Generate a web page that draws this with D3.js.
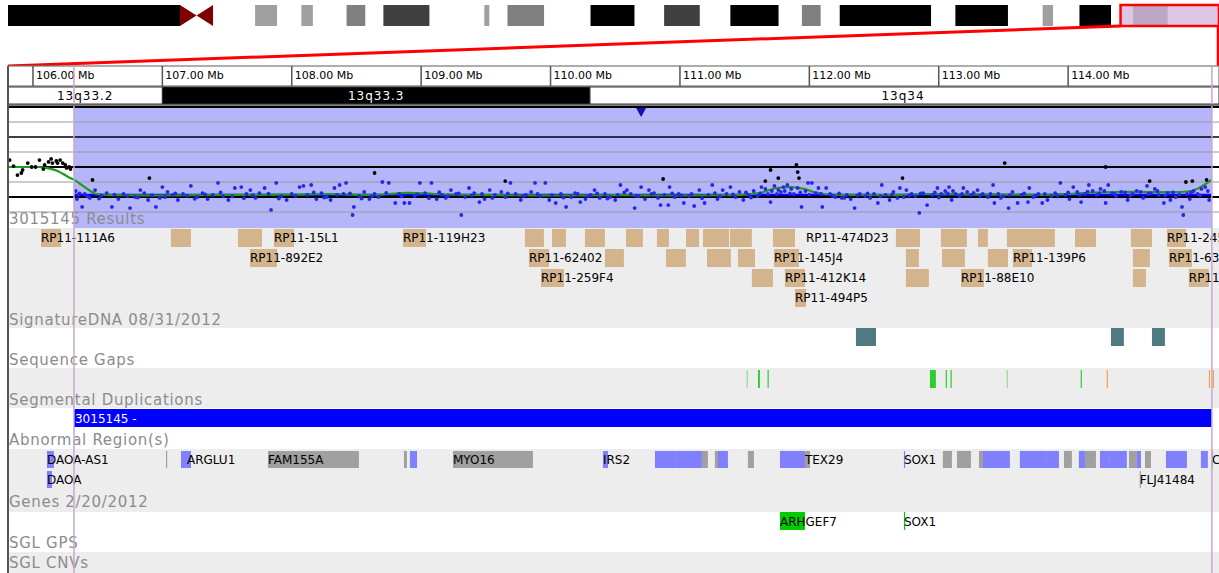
<!DOCTYPE html>
<html>
<head>
<meta charset="utf-8"/>
<script src="https://d3js.org/d3.v7.min.js"></script>
<title>chr13 region view</title>
<style>
  body { margin: 0; background: #fff; }
  text { font-family: "DejaVu Sans", sans-serif; }
  .trackLabel { font-size: 15px; fill: #8c8c8c; letter-spacing: 0.7px; }
  .feat { font-size: 12px; fill: #000; }
  .rulerText { font-size: 11px; fill: #000; }
</style>
</head>
<body>
<div id="chart"></div>
<script type="text/javascript">

// window on chromosome 13 and the selected region (Mb)
var viewStart = 105.807, viewEnd = 115.166;
var regionStart = 106.317, regionEnd = 115.111;
var chromLength = 115.17;
var rulerTicks = [106, 107, 108, 109, 110, 111, 112, 113, 114];

// ideogram bands [start, end, stain]
var ideoBands = [
  [0, 16.36, "gvar"], [16.36, 19.5, "acen"], [19.5, 23.5, "gneg"], [23.5, 25.6, "gpos25"],
  [25.6, 27.9, "gneg"], [27.9, 29.0, "gpos25"], [29.0, 32.2, "gneg"], [32.2, 34.0, "gpos50"],
  [34.0, 35.7, "gneg"], [35.7, 40.1, "gpos75"], [40.1, 45.3, "gneg"], [45.3, 45.8, "gpos25"],
  [45.8, 47.5, "gneg"], [47.5, 51.0, "gpos50"], [51.0, 55.4, "gneg"], [55.4, 59.6, "gpos100"],
  [59.6, 62.4, "gneg"], [62.4, 65.8, "gpos75"], [65.8, 68.7, "gneg"], [68.7, 73.3, "gpos100"],
  [73.3, 75.5, "gneg"], [75.5, 77.3, "gpos50"], [77.3, 79.1, "gneg"], [79.1, 87.8, "gpos100"],
  [87.8, 90.1, "gneg"], [90.1, 95.1, "gpos100"], [95.1, 98.4, "gneg"], [98.4, 99.4, "gpos25"],
  [99.4, 101.9, "gneg"], [101.9, 104.9, "gpos100"], [104.9, 107.0, "gneg"], [107.0, 110.3, "gpos100"],
  [110.3, 115.17, "gneg"]
];

// cytobands in view
var cytoNames = ["13q33.2", "13q33.3", "13q34"];
var cytoStarts = [104.9, 107.0, 110.305];
var cytoEnds = [107.0, 110.305, 115.17];
var cytoStains = ["gneg", "gpos100", "gneg"];

// log2 ratio probes outside / flagged (black) and inside region (blue)
var blackPoints = [
  [105.82, 1.23], [105.85, 1.03], [105.88, 0.73], [105.91, 0.8], [105.92, 0.9], [105.96, 1.13],
  [105.99, 1.0], [106.02, 1.0], [106.05, 1.23], [106.08, 0.93], [106.09, 1.07], [106.12, 1.17],
  [106.14, 1.27], [106.15, 1.13], [106.18, 1.2], [106.19, 1.13], [106.21, 1.23], [106.23, 1.13],
  [106.25, 1.07], [106.26, 0.97], [106.28, 1.0], [106.29, 0.93],
  [106.46, 0.57], [106.90, 0.63], [108.64, 0.8], [109.65, 0.53], [110.87, 0.6], [111.66, 0.53],
  [111.70, 0.9], [111.76, 0.63], [111.90, 1.07], [111.91, 0.83], [111.92, 0.63], [112.72, 0.63],
  [113.51, 1.13], [114.29, 1.0], [114.63, 0.53], [114.91, 0.5], [114.96, 0.53], [115.07, 0.57]
];

var bluePoints = [
  [106.33, 0.2], [106.34, -0.07], [106.35, 0.07], [106.38, -0.33], [106.40, 0.1], [106.44, -0.03],
  [106.48, 0.23], [106.53, 0.05], [106.57, 0.13], [106.61, -0.33], [106.66, -0.07], [106.70, 0.1],
  [106.75, -0.37], [106.79, 0.0], [106.83, 0.23], [106.86, 0.13], [106.89, -0.1], [106.95, -0.33],
  [106.98, -0.03], [107.00, 0.33], [107.04, 0.17], [107.08, 0.07], [107.12, -0.1], [107.16, 0.1],
  [107.22, 0.37], [107.27, 0.0], [107.31, 0.13], [107.35, -0.07], [107.39, 0.07], [107.43, 0.47],
  [107.47, 0.03], [107.51, -0.1], [107.56, 0.3], [107.61, 0.33], [107.65, 0.1], [107.68, 0.23],
  [107.72, -0.03], [107.75, 0.13], [107.79, 0.3], [107.84, -0.43], [107.88, 0.47], [107.92, 0.03],
  [107.96, -0.1], [108.00, 0.1], [108.06, 0.33], [108.09, 0.37], [108.12, 0.07], [108.15, 0.4],
  [108.19, -0.07], [108.23, 0.13], [108.27, 0.0], [108.30, -0.1], [108.33, 0.3], [108.37, 0.4],
  [108.40, 0.1], [108.42, 0.47], [108.47, -0.6], [108.48, -0.33], [108.52, 0.03], [108.56, 0.17],
  [108.60, -0.07], [108.64, 0.1], [108.67, 0.0], [108.70, 0.5], [108.75, 0.47], [108.80, -0.2],
  [108.83, 0.1], [108.87, -0.2], [108.91, -0.2], [108.95, 0.03], [108.99, 0.47], [109.03, 0.13],
  [109.08, 0.47], [109.12, -0.07], [109.16, 0.07], [109.19, -0.03], [109.23, 0.23], [109.27, 0.1],
  [109.31, -0.6], [109.34, 0.0], [109.37, 0.3], [109.41, 0.13], [109.45, -0.17], [109.49, -0.07],
  [109.53, 0.23], [109.57, 0.07], [109.62, 0.17], [109.65, 0.0], [109.69, 0.47], [109.73, 0.1],
  [109.77, -0.1], [109.81, 0.07], [109.85, 0.17], [109.88, 0.47], [109.92, 0.03], [109.96, 0.47],
  [109.99, -0.1], [110.04, -0.2], [110.08, 0.1], [110.12, -0.33], [110.16, 0.0], [110.19, 0.13],
  [110.23, -0.17], [110.27, -0.07], [110.31, 0.07], [110.34, 0.23], [110.38, -0.03], [110.42, 0.1],
  [110.46, 0.0], [110.50, -0.1], [110.54, 0.4], [110.59, 0.23], [110.62, 0.1], [110.65, -0.37],
  [110.68, 0.03], [110.70, 0.33], [110.73, -0.07], [110.76, 0.23], [110.80, 0.13], [110.85, -0.27],
  [110.88, 0.07], [110.91, -0.27], [110.92, 0.33], [110.96, 0.0], [110.99, 0.1], [111.03, -0.2],
  [111.07, 0.03], [111.11, -0.3], [111.15, 0.23], [111.19, -0.2], [111.22, 0.07], [111.25, 0.4],
  [111.29, -0.07], [111.33, 0.23], [111.36, 0.1], [111.39, 0.33], [111.43, 0.0], [111.46, 0.17],
  [111.49, -0.1], [111.53, 0.07], [111.57, 0.2], [111.60, 0.03], [111.63, 0.33], [111.66, 0.27],
  [111.68, 0.1], [111.70, -0.17], [111.73, 0.37], [111.76, 0.23], [111.78, 0.17], [111.80, 0.33],
  [111.83, 0.4], [111.86, 0.27], [111.88, 0.1], [111.91, 0.3], [111.94, -0.33], [111.97, 0.2],
  [111.99, 0.47], [112.02, 0.47], [112.05, 0.13], [112.07, 0.3], [112.10, -0.33], [112.13, 0.3],
  [112.16, 0.1], [112.20, 0.0], [112.25, -0.03], [112.29, 0.07], [112.32, -0.07], [112.35, -0.37],
  [112.39, 0.1], [112.43, 0.03], [112.47, -0.03], [112.50, 0.1], [112.53, -0.2], [112.56, 0.4],
  [112.59, 0.07], [112.62, -0.1], [112.65, 0.17], [112.68, -0.03], [112.70, 0.3], [112.73, 0.0],
  [112.75, 0.23], [112.79, 0.1], [112.82, 0.03], [112.85, -0.53], [112.88, 0.13], [112.91, -0.27],
  [112.95, 0.07], [112.99, 0.3], [113.02, 0.1], [113.05, 0.2], [113.08, 0.33], [113.10, -0.1],
  [113.13, 0.1], [113.16, 0.03], [113.19, 0.3], [113.22, 0.17], [113.25, 0.07], [113.30, 0.23],
  [113.34, 0.1], [113.38, 0.0], [113.42, 0.4], [113.43, -0.2], [113.46, 0.1], [113.50, 0.03],
  [113.54, -0.37], [113.57, 0.17], [113.61, -0.2], [113.64, 0.07], [113.69, -0.17], [113.70, 0.3],
  [113.73, 0.0], [113.77, 0.1], [113.80, -0.2], [113.84, -0.1], [113.87, 0.03], [113.90, 0.13],
  [113.94, 0.47], [113.98, 0.07], [114.01, -0.07], [114.04, 0.33], [114.07, 0.17], [114.10, -0.17],
  [114.13, 0.1], [114.16, 0.4], [114.19, 0.2], [114.22, 0.07], [114.25, 0.27], [114.29, -0.2],
  [114.31, 0.4], [114.34, 0.13], [114.37, 0.03], [114.41, 0.17], [114.46, -0.1], [114.50, 0.1],
  [114.53, 0.2], [114.58, -0.03], [114.61, 0.37], [114.64, 0.13], [114.67, 0.27], [114.70, 0.07],
  [114.74, -0.2], [114.77, 0.13], [114.79, -0.1], [114.83, 0.0], [114.88, -0.33], [114.89, -0.6],
  [114.92, 0.1], [114.94, -0.07], [114.97, 0.2], [115.00, 0.1], [115.03, 0.27], [115.06, 0.33],
  [115.09, -0.1],
  // dense run of probes near the baseline
  [106.36, 0.12], [106.42, 0.02], [106.51, -0.05], [106.63, 0.08], [106.73, 0.03], [106.81, -0.02],
  [106.92, 0.06], [107.02, 0.0], [107.10, 0.12], [107.19, 0.04], [107.25, -0.06], [107.33, 0.09],
  [107.45, 0.15], [107.54, 0.02], [107.63, -0.04], [107.70, 0.06], [107.82, 0.11], [107.90, -0.05],
  [108.03, 0.04], [108.17, 0.15], [108.25, -0.02], [108.35, 0.07], [108.45, 0.12], [108.54, -0.05],
  [108.62, 0.03], [108.73, 0.14], [108.85, 0.02], [108.97, 0.09], [109.06, -0.04], [109.14, 0.16],
  [109.21, 0.03], [109.29, 0.12], [109.39, 0.05], [109.47, 0.1], [109.55, -0.03], [109.67, 0.12],
  [109.79, 0.04], [109.90, 0.1], [110.01, 0.06], [110.10, -0.02], [110.21, 0.1], [110.29, 0.03],
  [110.36, 0.12], [110.44, -0.05], [110.52, 0.07], [110.57, 0.15], [110.66, 0.04], [110.78, 0.1],
  [110.83, -0.03], [110.94, 0.12], [111.01, 0.05], [111.09, 0.1], [111.17, -0.04], [111.27, 0.13],
  [111.31, 0.02], [111.41, 0.09], [111.51, 0.15], [111.55, -0.02], [111.62, 0.12], [111.71, 0.2],
  [111.75, 0.1], [111.81, 0.2], [111.85, 0.12], [111.93, 0.15], [112.00, 0.08], [112.09, 0.1],
  [112.18, 0.04], [112.23, 0.12], [112.27, -0.03], [112.37, 0.05], [112.45, 0.12], [112.55, 0.02],
  [112.64, 0.09], [112.77, 0.05], [112.86, 0.12], [112.97, 0.15], [113.00, -0.02], [113.07, 0.12],
  [113.11, 0.2], [113.18, 0.1], [113.27, 0.14], [113.32, 0.04], [113.40, 0.1], [113.48, -0.03],
  [113.55, 0.06], [113.66, 0.12], [113.75, 0.05], [113.82, 0.1], [113.92, 0.05], [114.00, 0.15],
  [114.09, 0.07], [114.15, 0.18], [114.24, 0.12], [114.28, 0.2], [114.36, 0.1], [114.44, 0.15],
  [114.48, 0.05], [114.56, 0.17], [114.62, 0.1], [114.69, 0.2], [114.75, 0.05], [114.81, 0.15],
  [114.86, 0.08], [114.95, 0.15], [115.02, 0.05], [115.08, 0.2]
];

// smoothed ratio and segment mean
var smoothLine = [
  [105.80, 1.0], [105.95, 1.0], [106.05, 1.0], [106.10, 0.97], [106.19, 0.87], [106.28, 0.65],
  [106.32, 0.57], [106.40, 0.33], [106.49, 0.1], [106.6, 0.06], [107.0, 0.05], [107.5, 0.07],
  [108.0, 0.08], [108.3, 0.1], [108.6, 0.06], [108.9, 0.14], [109.1, 0.1], [109.6, 0.06],
  [110.0, 0.05], [110.5, 0.06], [111.0, 0.05], [111.4, 0.06], [111.6, 0.12], [111.75, 0.3],
  [111.85, 0.33], [111.95, 0.28], [112.05, 0.15], [112.2, 0.07], [112.6, 0.06], [112.9, 0.1],
  [113.2, 0.09], [113.5, 0.08], [113.8, 0.07], [114.0, 0.1], [114.2, 0.15], [114.5, 0.17],
  [114.8, 0.16], [114.95, 0.2], [115.05, 0.4], [115.11, 0.57]
];
var segMean = [[106.317, 115.111, 0.07]];
var markerPos = 110.70;

// BAC clones [start, end, row, name]
var clones = [
  [106.062, 106.216, 0, "RP11-111A6"], [107.066, 107.221, 0, ""], [107.584, 107.770, 0, ""],
  [107.862, 108.017, 0, "RP11-15L1"], [108.859, 109.037, 0, "RP11-119H23"], [109.802, 109.949, 0, ""],
  [110.011, 110.119, 0, ""], [110.266, 110.420, 0, ""], [110.583, 110.714, 0, ""],
  [110.822, 110.915, 0, ""], [111.047, 111.148, 0, ""], [111.178, 111.379, 0, ""],
  [111.386, 111.556, 0, ""], [111.719, 111.889, 0, ""], [111.974, 111.974, 0, "RP11-474D23"],
  [112.669, 112.855, 0, ""], [113.017, 113.218, 0, ""], [113.303, 113.380, 0, ""],
  [113.527, 113.736, 0, ""], [113.736, 113.898, 0, ""], [114.053, 114.215, 0, ""],
  [114.485, 114.648, 0, ""], [114.764, 114.911, 0, "RP11-245"],
  [107.677, 107.886, 1, "RP11-892E2"], [109.833, 109.988, 1, "RP11-62402"], [110.420, 110.567, 1, ""],
  [110.892, 111.046, 1, ""], [111.209, 111.394, 1, ""], [111.448, 111.580, 1, ""],
  [111.726, 111.920, 1, "RP11-145J4"], [112.746, 112.847, 1, ""], [113.025, 113.202, 1, ""],
  [113.380, 113.535, 1, ""], [113.573, 113.720, 1, "RP11-139P6"], [114.501, 114.632, 1, ""],
  [114.779, 114.957, 1, "RP11-63"],
  [109.926, 110.104, 2, "RP11-259F4"], [111.556, 111.719, 2, ""], [111.811, 111.966, 2, "RP11-412K14"],
  [112.746, 112.924, 2, ""], [113.172, 113.349, 2, "RP11-88E10"], [114.501, 114.601, 2, ""],
  [114.933, 115.087, 2, "RP11-"],
  [111.889, 111.974, 3, "RP11-494P5"]
];

// sequence gaps and segmental duplications [start, end, kind]
var seqGaps = [[112.360, 112.515], [114.331, 114.431], [114.648, 114.748]];
var segDups = [
  [111.515, 111.522, "faint"], [111.603, 111.618, "green"], [111.677, 111.685, "green"],
  [112.932, 112.978, "green"], [113.054, 113.060, "green"], [113.091, 113.097, "green"],
  [113.525, 113.530, "faint"], [114.097, 114.102, "green"], [114.298, 114.303, "orange"],
  [115.088, 115.094, "orange"], [115.118, 115.124, "orange"]
];

// abnormal region call
var abnormal = [[106.317, 115.111, "3015145 -"]];

// genes [start, end, row, type, name]
var genes = [
  [106.108, 106.162, 0, "coding", "DAOA-AS1"], [107.028, 107.036, 0, "other", ""],
  [107.144, 107.190, 0, "coding", ""], [107.190, 107.221, 0, "coding", "ARGLU1"],
  [107.816, 108.519, 0, "other", "FAM155A"], [108.867, 108.890, 0, "other", ""],
  [108.913, 108.968, 0, "coding", ""], [109.246, 109.864, 0, "other", "MYO16"],
  [110.405, 110.444, 0, "coding", "IRS2"], [110.807, 110.969, 0, "coding", ""],
  [110.969, 111.170, 0, "coding", ""], [111.170, 111.216, 0, "other", ""],
  [111.270, 111.294, 0, "other", ""], [111.294, 111.371, 0, "coding", ""],
  [111.525, 111.572, 0, "other", ""], [111.773, 111.966, 0, "coding", ""],
  [111.966, 112.005, 0, "other", "TEX29"], [112.731, 112.739, 0, "coding", "SOX1"],
  [113.032, 113.102, 0, "other", ""], [113.141, 113.249, 0, "other", ""],
  [113.311, 113.342, 0, "other", ""], [113.342, 113.550, 0, "coding", ""],
  [113.627, 113.767, 0, "coding", ""], [113.767, 113.836, 0, "coding", ""],
  [113.836, 113.929, 0, "coding", ""], [113.968, 114.029, 0, "other", ""],
  [114.083, 114.130, 0, "coding", ""], [114.130, 114.215, 0, "other", ""],
  [114.246, 114.323, 0, "coding", ""], [114.323, 114.454, 0, "coding", ""],
  [114.470, 114.532, 0, "other", ""], [114.532, 114.563, 0, "coding", ""],
  [114.594, 114.640, 0, "other", ""], [114.756, 114.918, 0, "coding", ""],
  [115.026, 115.080, 0, "coding", ""], [115.111, 115.117, 0, "other", "CHAMP1"],
  [106.108, 106.147, 1, "coding", "DAOA"], [114.553, 114.560, 1, "other", "FLJ41484"]
];

// SGL GPS hits
var gpsHits = [[111.773, 111.966, "ARHGEF7"], [112.731, 112.739, "SOX1"]];

var trackNames = ["3015145 Results", "SignatureDNA 08/31/2012", "Sequence Gaps",
  "Segmental Duplications", "Abnormal Region(s)", "Genes 2/20/2012", "SGL GPS", "SGL CNVs"];

// ---------------------------------------------------------------
var W = 1219, H = 573, left = 8;
var stainColor = {gvar: "#000", acen: "#800000", gneg: "#fff", gpos25: "#a0a0a0",
  gpos50: "#808080", gpos75: "#404040", gpos100: "#000"};

var svg = d3.select("#chart").append("svg")
  .attr("width", W).attr("height", H)
  .style("display", "block");

var x = d3.scaleLinear().domain([viewStart, viewEnd]).range([left, W]);
var ix = d3.scaleLinear().domain([0, chromLength]).range([left, W]);

// ideogram
var ideo = svg.append("g");
var iTop = 5, iBot = 26;
ideo.selectAll("rect.band")
  .data(ideoBands.filter(function(d) { return d[2] != "acen"; }))
  .enter().append("rect")
  .attr("x", function(d) { return ix(d[0]); })
  .attr("width", function(d) { return ix(d[1]) - ix(d[0]); })
  .attr("y", iTop).attr("height", iBot - iTop)
  .attr("fill", function(d) { return stainColor[d[2]]; });
ideoBands.filter(function(d) { return d[2] == "acen"; }).forEach(function(d) {
  var a = ix(d[0]), b = ix(d[1]), m = (a + b) / 2, c = (iTop + iBot) / 2;
  ideo.append("path")
    .attr("d", "M" + a + "," + iTop + "L" + m + "," + c + "L" + a + "," + iBot + "Z" +
               "M" + b + "," + iTop + "L" + m + "," + c + "L" + b + "," + iBot + "Z")
    .attr("fill", stainColor.acen);
});
// view window on ideogram
ideo.append("rect")
  .attr("x", ix(viewStart)).attr("y", iTop)
  .attr("width", ix(viewEnd) - ix(viewStart)).attr("height", iBot - iTop)
  .attr("fill", "#d8bde1").attr("fill-opacity", 0.88)
  .attr("stroke", "#f00").attr("stroke-width", 2.5);

// red zoom connector
svg.append("path")
  .attr("d", "M" + left + ",66L" + ix(viewStart) + "," + iBot)
  .attr("stroke", "#f00").attr("stroke-width", 3).attr("fill", "none");
svg.append("path")
  .attr("d", "M" + (W - 1) + ",66L" + (W - 1) + "," + iBot)
  .attr("stroke", "#f00").attr("stroke-width", 2.5).attr("fill", "none");

// ruler
var rTop = 66, rBot = 86;
svg.append("rect").attr("x", left).attr("y", rTop).attr("width", W - left).attr("height", rBot - rTop)
  .attr("fill", "#fff").attr("stroke", "#777").attr("stroke-width", 1.2);
var tick = svg.selectAll("g.tick").data(rulerTicks).enter().append("g");
tick.append("line")
  .attr("x1", function(d) { return x(d); }).attr("x2", function(d) { return x(d); })
  .attr("y1", rTop).attr("y2", rBot)
  .attr("stroke", "#555").attr("stroke-width", 1.5);
tick.append("text").attr("class", "rulerText")
  .attr("x", function(d) { return x(d) + 3; }).attr("y", rBot - 7)
  .text(function(d) { return d3.format(".2f")(d) + " Mb"; });

// cytoband row
var cTop = 87, cBot = 104;
var cyto = svg.selectAll("g.cyto").data(cytoNames).enter().append("g");
cyto.append("rect")
  .attr("x", function(d, i) { return Math.max(left, x(cytoStarts[i])); })
  .attr("width", function(d, i) { return Math.min(W, x(cytoEnds[i])) - Math.max(left, x(cytoStarts[i])); })
  .attr("y", cTop).attr("height", cBot - cTop)
  .attr("fill", function(d, i) { return stainColor[cytoStains[i]]; })
  .attr("stroke", "#333").attr("stroke-width", 1);
cyto.append("text")
  .attr("x", function(d, i) { return (Math.max(left, x(cytoStarts[i])) + Math.min(W - 3, x(cytoEnds[i]))) / 2; })
  .attr("y", cBot - 4)
  .attr("text-anchor", "middle")
  .style("font-size", "12px").style("letter-spacing", "1px")
  .attr("fill", function(d, i) { return cytoStains[i] == "gneg" ? "#000" : "#fff"; })
  .text(function(d) { return d; });

// track backgrounds
var trackTops = [106, 228, 328, 368, 408, 449, 512, 552];
var trackBots = [228, 328, 368, 408, 449, 512, 552, 573];
var trackBg = ["#fff", "#ededed", "#fff", "#ededed", "#fff", "#ededed", "#fff", "#ededed"];
svg.selectAll("rect.trackbg").data(trackNames).enter().append("rect")
  .attr("x", left).attr("width", W - left)
  .attr("y", function(d, i) { return trackTops[i]; })
  .attr("height", function(d, i) { return trackBots[i] - trackTops[i]; })
  .attr("fill", function(d, i) { return trackBg[i]; });

// results track
var y = d3.scaleLinear().domain([-1, 3]).range([227, 107]);
svg.append("rect")
  .attr("x", x(regionStart)).attr("width", x(regionEnd) - x(regionStart))
  .attr("y", 106).attr("height", 122)
  .attr("fill", "#b5b5f9");
var gridVals = [-0.5, 0, 0.5, 1, 1.5, 2, 2.5, 3];
svg.selectAll("line.grid").data(gridVals).enter().append("line")
  .attr("x1", left).attr("x2", W)
  .attr("y1", function(d) { return y(d); }).attr("y2", function(d) { return y(d); })
  .attr("stroke", function(d) { return d % 1 == 0 ? "#000" : "#9a9a9a"; })
  .attr("stroke-width", function(d) { return (d == 0 || d == 1 || d == 3) ? 2 : (d == 2 ? 1.5 : 1.2); });
svg.selectAll("line.seg").data(segMean).enter().append("line")
  .attr("x1", function(d) { return x(d[0]); }).attr("x2", function(d) { return x(d[1]); })
  .attr("y1", function(d) { return y(d[2]); }).attr("y2", function(d) { return y(d[2]); })
  .attr("stroke", "#0000ff").attr("stroke-width", 2.2);
svg.append("path")
  .datum(smoothLine)
  .attr("d", d3.line().curve(d3.curveMonotoneX)
    .x(function(d) { return x(d[0]); }).y(function(d) { return y(d[1]); }))
  .attr("fill", "none").attr("stroke", "#1f9a1f").attr("stroke-width", 2.2);
svg.selectAll("circle.blue").data(bluePoints).enter().append("circle")
  .attr("cx", function(d) { return x(d[0]); }).attr("cy", function(d) { return y(d[1]); })
  .attr("r", 1.9).attr("fill", "#2626e8");
svg.selectAll("circle.black").data(blackPoints).enter().append("circle")
  .attr("cx", function(d) { return x(d[0]); }).attr("cy", function(d) { return y(d[1]); })
  .attr("r", 1.9).attr("fill", "#000");
svg.append("path")
  .attr("d", "M" + (x(markerPos) - 5) + ",108L" + (x(markerPos) + 5) + ",108L" + x(markerPos) + ",117Z")
  .attr("fill", "#1010b0");

// clone track
var cl = svg.selectAll("g.clone").data(clones).enter().append("g");
cl.append("rect")
  .attr("x", function(d) { return x(d[0]); })
  .attr("width", function(d) { return x(d[1]) - x(d[0]); })
  .attr("y", function(d) { return 229 + d[2] * 20; }).attr("height", 18)
  .attr("fill", "#d4b48c");
cl.append("text").attr("class", "feat")
  .attr("x", function(d) { return x(d[0]); })
  .attr("y", function(d) { return 242 + d[2] * 20; })
  .text(function(d) { return d[3]; });

// sequence gaps
svg.selectAll("rect.gap").data(seqGaps).enter().append("rect")
  .attr("x", function(d) { return x(d[0]); })
  .attr("width", function(d) { return x(d[1]) - x(d[0]); })
  .attr("y", 328).attr("height", 18)
  .attr("fill", "#4f7a80");

// segmental duplications
var dupColor = {green: "#2ecc2e", faint: "#8ee08e", orange: "#f5a340"};
svg.selectAll("rect.dup").data(segDups).enter().append("rect")
  .attr("x", function(d) { return x(d[0]); })
  .attr("width", function(d) { return Math.max(1.2, x(d[1]) - x(d[0])); })
  .attr("y", 370).attr("height", 18)
  .attr("fill", function(d) { return dupColor[d[2]]; });

// abnormal region
var ab = svg.selectAll("g.ab").data(abnormal).enter().append("g");
ab.append("rect")
  .attr("x", function(d) { return x(d[0]); })
  .attr("width", function(d) { return x(d[1]) - x(d[0]); })
  .attr("y", 409).attr("height", 18).attr("fill", "#0000ff");
ab.append("text").attr("class", "feat")
  .attr("x", function(d) { return x(d[0]) + 1; }).attr("y", 423)
  .style("fill", "#fff")
  .text(function(d) { return d[2]; });

// genes
var geneColor = {coding: "#8080ff", other: "#a0a0a0"};
var gn = svg.selectAll("g.gene").data(genes).enter().append("g");
gn.append("rect")
  .attr("x", function(d) { return x(d[0]); })
  .attr("width", function(d) { return Math.max(1.2, x(d[1]) - x(d[0])); })
  .attr("y", function(d) { return 451 + d[2] * 20; }).attr("height", 17)
  .attr("fill", function(d) { return geneColor[d[3]]; });
gn.append("text").attr("class", "feat")
  .attr("x", function(d) { return x(d[0]); })
  .attr("y", function(d) { return 464 + d[2] * 20; })
  .text(function(d) { return d[4]; });

// SGL GPS
var gp = svg.selectAll("g.gps").data(gpsHits).enter().append("g");
gp.append("rect")
  .attr("x", function(d) { return x(d[0]); })
  .attr("width", function(d) { return Math.max(1.2, x(d[1]) - x(d[0])); })
  .attr("y", 512).attr("height", 18).attr("fill", "#00cc00");
gp.append("text").attr("class", "feat")
  .attr("x", function(d) { return x(d[0]); }).attr("y", 526)
  .text(function(d) { return d[2]; });

// track labels
var labelBase = [224, 325, 365, 405, 445, 507, 548, 568];
svg.selectAll("text.trackLabel").data(trackNames).enter().append("text")
  .attr("class", "trackLabel")
  .attr("x", left + 1)
  .attr("y", function(d, i) { return labelBase[i]; })
  .text(function(d) { return d; });

// region bounds and frame
[regionStart, regionEnd].forEach(function(v) {
  svg.append("line")
    .attr("x1", x(v)).attr("x2", x(v)).attr("y1", 66).attr("y2", H)
    .attr("stroke", "#c6a8cf").attr("stroke-width", 1.5);
});
svg.append("line").attr("x1", left).attr("x2", left).attr("y1", 66).attr("y2", H)
  .attr("stroke", "#555").attr("stroke-width", 2);
svg.append("line").attr("x1", left).attr("x2", W).attr("y1", 105).attr("y2", 105)
  .attr("stroke", "#555").attr("stroke-width", 1.5);

</script>
</body>
</html>
